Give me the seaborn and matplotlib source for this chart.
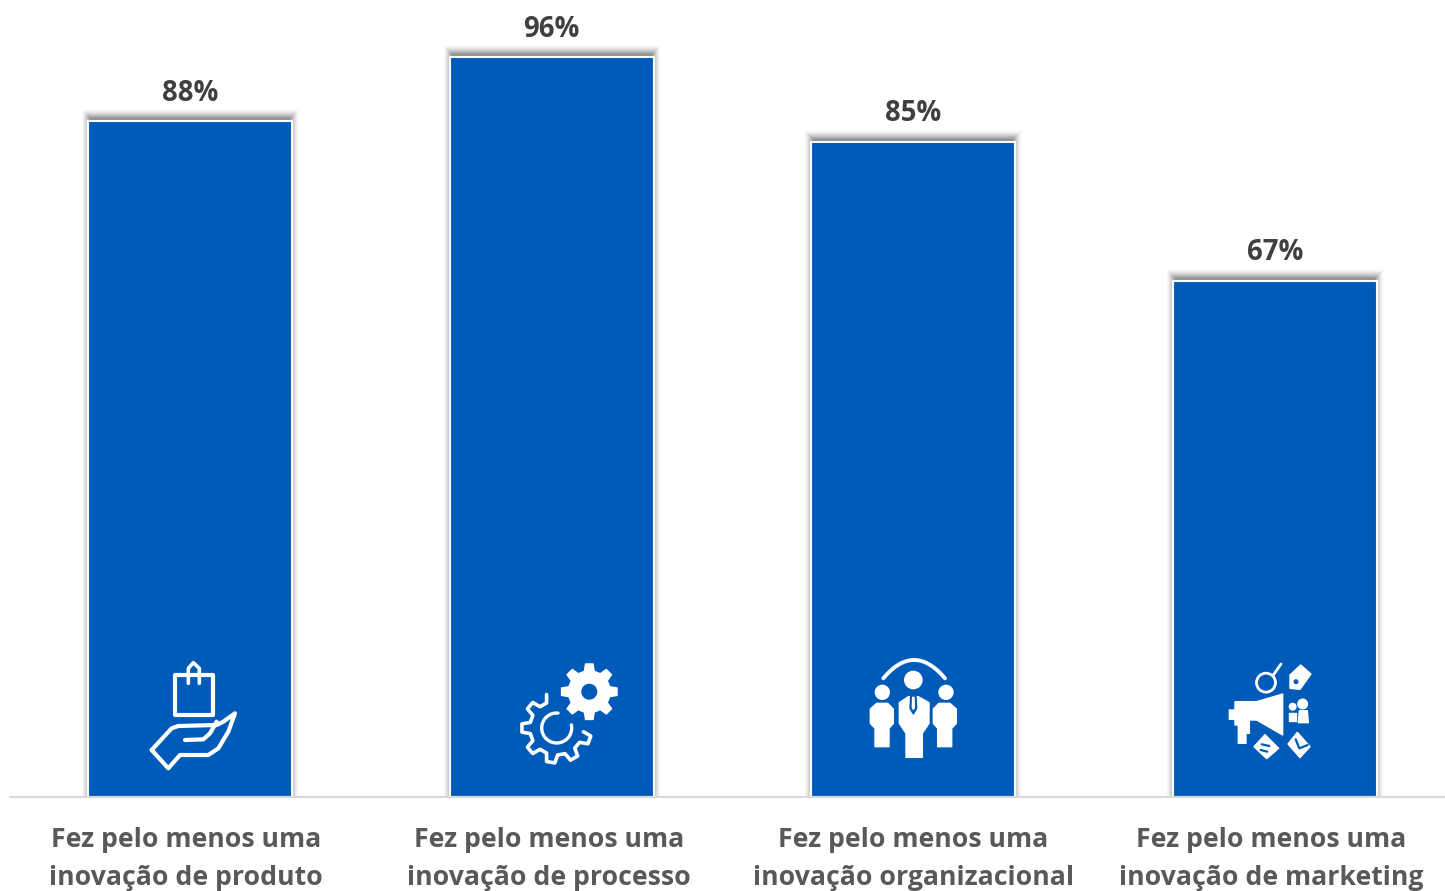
import numpy as np
import pandas as pd
import matplotlib
matplotlib.use('Agg')
import matplotlib.pyplot as plt
import matplotlib.transforms as mtrans
from matplotlib.patches import Rectangle, Polygon, Circle
import seaborn as sns

categories = [
    'Fez pelo menos uma\ninovação de produto',
    'Fez pelo menos uma\ninovação de processo',
    'Fez pelo menos uma\ninovação organizacional',
    'Fez pelo menos uma\ninovação de marketing',
]
values = [87.7, 96, 85, 67]
label_shift_px = [-4, -3, 0, -4]

BLUE = '#005BB8'
W = 1445
H = 891

sns.set_theme(style='white')
plt.rcParams['font.family'] = ['Open Sans', 'DejaVu Sans']
plt.rcParams['font.weight'] = 'bold'

df = pd.DataFrame({'tipo': categories, 'pct': values})

fig = plt.figure(figsize=(W / 100, H / 100), dpi=100)
ax = fig.add_axes([10 / W, (H - 797) / H, 1435 / W, 797 / H])
sns.barplot(data=df, x='tipo', y='pct', color=BLUE, saturation=1, width=0.564,
            edgecolor='white', linewidth=1.5, ax=ax)
ax.set_xlim(-0.4976, 3.4697)
ax.set_ylim(0, 103.4)
ax.set_xlabel('')
ax.set_ylabel('')
ax.set_yticks([])
sns.despine(ax=ax, left=True)
ax.spines['bottom'].set_color('#D9D9D9')
ax.spines['bottom'].set_linewidth(1.5)
ax.tick_params(axis='x', length=0, pad=21.5)

# bar shadow, a stack of soft rectangles behind each bar
px_x = 1 / 361.7
px_y = 1 / 7.708
for bar in ax.patches[:len(values)]:
    for s in range(10):
        ax.add_patch(Rectangle((bar.get_x() - (s - 2) * px_x, 0),
                               bar.get_width() + 2 * (s - 2) * px_x,
                               bar.get_height() + (3 + s) * px_y,
                               fc='black', alpha=0.012 + 0.009 * (9 - s), lw=0, zorder=0.5))

ax.bar_label(ax.containers[0], fmt='%.0f%%', padding=9.7, fontsize=19.8,
             fontweight='bold', color='#404040')

for lab, dx in zip(ax.get_xticklabels(), label_shift_px):
    lab.set_fontsize(19.2)
    lab.set_fontweight('bold')
    lab.set_color('#595959')
    lab.set_linespacing(1.63)
    lab.set_transform(lab.get_transform() + mtrans.ScaledTranslation(dx / 100, 0, fig.dpi_scale_trans))

# icons, drawn on a pixel overlay
ov = fig.add_axes([0, 0, 1, 1], facecolor='none')
ov.set_xlim(0, W)
ov.set_ylim(H, 0)
ov.axis('off')
ov.set_zorder(5)


def zp(pts, x0, y0):
    return [(x0 + a / 3, y0 + b / 3) for a, b in pts]


def line(pts, lw=2.2, color='white'):
    xs, ys = zip(*pts)
    ov.plot(xs, ys, color=color, lw=lw, solid_capstyle='round', solid_joinstyle='round')


def fill(pts, color='white'):
    ov.add_patch(Polygon(pts, closed=True, fc=color, ec=color, lw=1, joinstyle='round'))


def gear_points(cx, cy, r_out, r_in, teeth, a0=0.0):
    pts = []
    step = 2 * np.pi / teeth
    for i in range(teeth):
        base = a0 + i * step
        for frac, r in [(-0.30, r_in), (-0.17, r_out), (0.17, r_out), (0.30, r_in)]:
            a = base + frac * step
            pts.append((cx + r * np.cos(a), cy - r * np.sin(a)))
    return pts


# 1 bag and hand
x0, y0 = 60, 640
ov.add_patch(Rectangle((175, 675), 38, 40, fc='none', ec='white', lw=3, joinstyle='round'))
line(zp([(385, 130), (385, 85), (400, 68), (418, 85), (418, 130)], x0, y0), 2.6)
line(zp([(275, 330), (335, 265), (355, 258), (470, 255), (490, 245), (525, 220), (505, 275),
         (475, 325), (445, 345), (360, 345), (325, 385), (275, 330)], x0, y0), 3)
line(zp([(375, 300), (430, 298), (450, 280), (470, 245)], x0, y0), 3)

# 2 gears
cx, cy = 556.7, 728
ring = gear_points(cx, cy, 35, 27, 9, a0=np.deg2rad(20))
ang = [np.rad2deg(np.arctan2(cy - p[1], p[0] - cx)) % 360 for p in ring]
ring = [p for p, a in sorted(zip(ring, ang), key=lambda t: t[1]) if 95 < a < 357]
line(ring, 2.6)
th = np.deg2rad(np.linspace(85, 372, 40))
line(list(zip(cx + 15 * np.cos(th), cy - 15 * np.sin(th))), 2.4)
fill(gear_points(589.3, 691.7, 28, 21, 8, a0=np.pi / 2))
ov.add_patch(Circle((589.3, 691.7), 15, fc='white', ec='none'))
ov.add_patch(Circle((589.3, 691.7), 8, fc=BLUE, ec='none'))

# 3 people
x0, y0 = 850, 640
t = np.linspace(0, 1, 30)
line(zp([((1 - u) ** 2 * 100 + 2 * u * (1 - u) * 192 + u ** 2 * 285,
          (1 - u) ** 2 * 115 + 2 * u * (1 - u) * 5 + u ** 2 * 115) for u in t], x0, y0), 2.8)
for hx, hy, r in [(190, 120, 28), (97, 157, 23), (288, 157, 23)]:
    ov.add_patch(Circle((x0 + hx / 3, y0 + hy / 3), r / 3, fc='white', ec='none'))
body = [(148, 188), (175, 170), (205, 170), (237, 188), (237, 250), (217, 280), (217, 352),
        (168, 352), (168, 280), (148, 250)]
fill(zp(body, x0, y0))
fill(zp([(182, 168), (198, 168), (200, 205), (190, 222), (180, 205)], x0, y0), BLUE)
fill(zp([(188, 172), (192, 172), (193, 203), (190, 208), (187, 203)], x0, y0))
side = [(61, 207), (80, 190), (113, 190), (130, 207), (130, 250), (117, 265), (117, 320),
        (75, 320), (75, 265), (61, 250)]
fill(zp(side, x0, y0))
fill(zp([(380 - a, b) for a, b in side], x0, y0))

# 4 marketing
x0, y0 = 1210, 650
fill(zp([(58, 180), (75, 180), (75, 155), (140, 155), (218, 132), (218, 255), (140, 210), (118, 210),
         (118, 250), (108, 250), (108, 280), (85, 280), (85, 225), (75, 225), (75, 208), (58, 208)], x0, y0))
ov.add_patch(Circle((x0 + 168 / 3, y0 + 98 / 3), 9.5, fc='none', ec='white', lw=2))
line(zp([(190, 75), (213, 42)], x0, y0), 2)
fill(zp([(240, 115), (240, 75), (272, 45), (303, 72), (270, 118)], x0, y0))
ov.add_patch(Circle((x0 + 258 / 3, y0 + 95 / 3), 2.5, fc=BLUE, ec='none'))
ov.add_patch(Circle((x0 + 278 / 3, y0 + 162 / 3), 5.5, fc='white', ec='none'))
ov.add_patch(Circle((x0 + 248 / 3, y0 + 170 / 3), 4, fc='white', ec='none'))
fill(zp([(268, 182), (292, 182), (295, 218), (265, 218)], x0, y0))
fill(zp([(238, 188), (258, 188), (258, 212), (238, 212)], x0, y0))
fill(zp([(132, 290), (165, 254), (206, 295), (170, 326)], x0, y0))
line(zp([(155, 283), (178, 288)], x0, y0), 1.6, BLUE)
line(zp([(152, 300), (172, 305)], x0, y0), 1.6, BLUE)
fill(zp([(234, 282), (262, 247), (300, 290), (270, 323)], x0, y0))
line(zp([(257, 268), (268, 295), (293, 285)], x0, y0), 1.6, BLUE)

fig.savefig('out.png', dpi=100)
